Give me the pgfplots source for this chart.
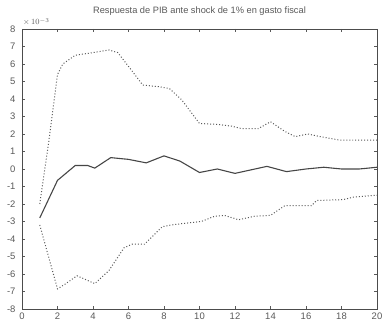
\documentclass[border=0pt]{standalone}
\usepackage{pgfplots}
\pgfplotsset{compat=1.18}
\usepackage{fontspec}
\setmainfont{Liberation Sans}
\begin{document}
\begin{tikzpicture}
\begin{axis}[
  name=ax,
  scale only axis,
  clip=false,
  width=355bp, height=280bp,
  xmin=0, xmax=20, ymin=-8, ymax=8,
  xtick={0,2,...,20}, ytick={-8,-7,...,8},
  tick align=inside,
  major tick length=3bp,
  tick style={gray!70!black, line width=0.4pt},
  axis line style={gray!60!black, line width=0.6pt},
  tick label style={font=\fontsize{9.5}{10}\selectfont, text=gray!70!black},
  /pgf/number format/assume math mode=true,
  title={Respuesta de PIB ante shock de 1\% en gasto fiscal},
  title style={font=\fontsize{9.3}{10}\selectfont, text=gray!70!black, anchor=base, at={(0.5,1)}, yshift=10bp},
  xticklabel style={yshift=0bp},
  yticklabel style={xshift=-3bp},
]
% solid response
\addplot[gray!55!black, line width=1.1pt] coordinates {
(1,-2.8) (2,-0.65) (3,0.2) (3.7,0.2) (4.1,0.05) (5,0.65) (6,0.55) (7,0.35)
(8,0.75) (8.9,0.45) (10,-0.2) (11,0) (12,-0.25) (12.9,-0.05) (13.8,0.15)
(14.9,-0.15) (16,0) (17,0.1) (18,0) (19,0) (20,0.1)};
% upper band
\addplot[gray!70!black, dotted, line width=1pt] coordinates {
(1,-2.0) (1.5,1.5) (2,5.4) (2.3,6.0) (3,6.5) (4,6.65) (4.9,6.8) (5.4,6.65)
(6.2,5.6) (6.8,4.8) (7.7,4.7) (8.3,4.6) (9,3.95) (10,2.6) (11,2.55)
(11.8,2.45) (12.4,2.3) (13.3,2.3) (14,2.7) (14.8,2.15) (15.4,1.85) (16.1,2.0)
(16.8,1.85) (17.9,1.65) (20,1.65)};
% lower band
\addplot[gray!70!black, dotted, line width=1pt] coordinates {
(1,-3.2) (2,-6.85) (2.4,-6.6) (3.1,-6.1) (4.1,-6.55) (4.9,-5.8) (5.75,-4.5)
(6.2,-4.3) (6.9,-4.3) (7.9,-3.3) (8.4,-3.2) (9.2,-3.1) (10.1,-3.0) (10.85,-2.7)
(11.4,-2.65) (12.2,-2.9) (13.1,-2.7) (14,-2.65) (14.8,-2.1) (16.3,-2.1)
(16.6,-1.8) (18.1,-1.75) (18.7,-1.6) (20,-1.5)};
\node[anchor=south west, font=\fontsize{8}{9}\selectfont, text=gray!70!black, inner sep=1bp, yshift=2bp]
  at (rel axis cs:0,1) {$\times\,10^{-3}$};
\end{axis}
\pgfresetboundingbox
\path ([xshift=-22bp,yshift=-19bp]ax.south west) rectangle ([xshift=6bp,yshift=29bp]ax.north east);
\end{tikzpicture}
\end{document}
